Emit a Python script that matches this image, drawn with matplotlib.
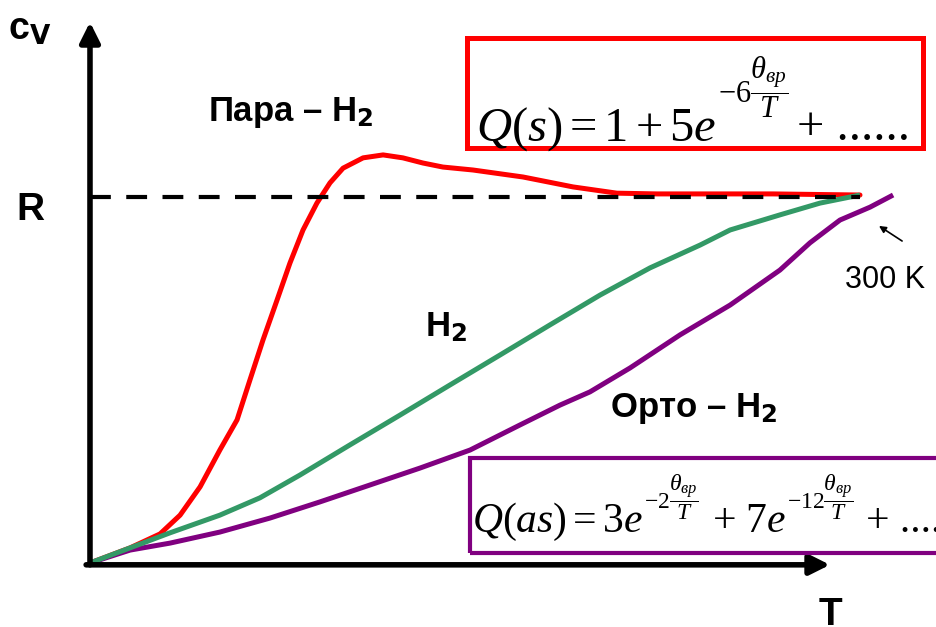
import numpy as np
import matplotlib
matplotlib.use("Agg")
import matplotlib.pyplot as plt
from matplotlib.patches import Rectangle

plt.rcParams['mathtext.fontset'] = 'custom'
plt.rcParams['mathtext.rm'] = 'Liberation Serif'
plt.rcParams['mathtext.it'] = 'Liberation Serif:italic'

# temperature T (K) and heat capacity cv (in units of R)
T_para = [0, 15.6, 27.3, 35.1, 42.9, 50.6, 57.3, 62.3, 67.4, 72.9, 77.9, 83.0, 88.4,
          93.5, 98.6, 106.4, 114.2, 121.9, 129.7, 137.5, 149.2, 168.7, 188.2, 205.3,
          220.9, 266.1, 300]
cv_para = [0, 0.041, 0.079, 0.130, 0.207, 0.307, 0.389, 0.497, 0.606, 0.715, 0.815, 0.905,
           0.978, 1.033, 1.073, 1.101, 1.109, 1.101, 1.087, 1.076, 1.068, 1.049, 1.022,
           1.005, 1.003, 1.003, 1.0]

T_h2 = [0, 15.6, 31.2, 50.6, 66.2, 81.8, 101.3, 120.8, 140.3, 159.7, 179.2, 198.7,
        218.2, 237.7, 249.4, 268.8, 284.4, 300]
cv_h2 = [0, 0.041, 0.082, 0.130, 0.177, 0.239, 0.321, 0.402, 0.484, 0.565, 0.647, 0.728,
         0.802, 0.864, 0.905, 0.946, 0.978, 1.0]

T_ortho = [0, 15.6, 31.2, 50.6, 70.1, 89.6, 109.1, 128.6, 148.1, 167.5, 183.1, 194.8,
           210.4, 229.9, 249.4, 268.8, 280.5, 292.2, 303.9, 312.9]
cv_ortho = [0, 0.035, 0.054, 0.084, 0.122, 0.166, 0.212, 0.258, 0.307, 0.375, 0.429, 0.465,
            0.530, 0.620, 0.701, 0.796, 0.870, 0.932, 0.967, 1.0]

fig = plt.figure(figsize=(9.37, 6.27), dpi=100)
ax = fig.add_axes([0, 0, 1, 1])
ax.set_xlim(-35.06, 330.0)
ax.set_ylim(-0.174, 1.530)
ax.axis('off')

ax.plot(T_para, cv_para, color='#ff0000', lw=3.6, solid_capstyle='round', zorder=2)
ax.plot(T_ortho, cv_ortho, color='#800080', lw=3.6, solid_capstyle='butt', zorder=3)
ax.plot(T_h2, cv_h2, color='#339966', lw=3.6, solid_capstyle='butt', zorder=4)
ax.plot([0, 300], [0.995, 0.995], color='black', lw=3, dashes=(5, 3.7), zorder=5)

# axes arrows
ax.annotate('', xy=(0, 1.47), xytext=(0, -0.005),
            arrowprops=dict(arrowstyle='-|>', lw=4, color='black', mutation_scale=30,
                            shrinkA=0, shrinkB=0), zorder=6)
ax.annotate('', xy=(288.3, -0.005), xytext=(-1.5, -0.005),
            arrowprops=dict(arrowstyle='-|>', lw=4, color='black', mutation_scale=30,
                            shrinkA=0, shrinkB=0), zorder=6)

bold = dict(family='Liberation Sans', weight='bold', color='black')
ax.text(-32, 1.45, r'c$_\mathbf{V}$', fontsize=27, va='center', ha='left', **bold)
ax.text(-28.5, 0.96, 'R', fontsize=28, va='center', ha='left', **bold)
ax.text(288.3, -0.092, 'T', fontsize=28, va='top', ha='center', **bold)
ax.text(46.0, 1.225, 'Пара – H$_\\mathbf{2}$', fontsize=25, va='center', ha='left', **bold)
ax.text(130.5, 0.64, 'H$_\\mathbf{2}$', fontsize=25, va='center', ha='left', **bold)
ax.text(202.5, 0.42, 'Орто – H$_\\mathbf{2}$', fontsize=25, va='center', ha='left', **bold)
ax.text(294.2, 0.769, '300 K', fontsize=22, va='center', ha='left',
        family='Liberation Sans', color='black')
ax.annotate('', xy=(307.4, 0.916), xytext=(316.4, 0.875),
            arrowprops=dict(arrowstyle='-|>', lw=1.2, color='black', mutation_scale=10,
                            shrinkA=0, shrinkB=0))

serif = dict(family='Liberation Serif', color='black', zorder=8)
exponent = r'$-%s\dfrac{\theta_{вр}}{T}$'

# Q(s) formula in red box
ax.add_patch(Rectangle((147.0, 1.128), 177.5, 0.299, fill=False, ec='#ff0000', lw=3.6, zorder=7))
base = 1.149
t1 = ax.text(150.5, base, r'$Q(s)=1+5e$', fontsize=35, va='baseline', ha='left', **serif)
t2 = ax.annotate(exponent % '6', xy=(1, base), xycoords=(t1, 'data'), xytext=(1, 38),
                 textcoords='offset points', fontsize=22, va='center', ha='left', **serif)
ax.annotate('+ ......', xy=(1, base), xycoords=(t2, 'data'), xytext=(6, 0),
            textcoords='offset points', fontsize=35, va='baseline', ha='left', **serif)

# Q(as) formula in purple box
ax.add_patch(Rectangle((148.0, 0.027), 200, 0.258, fill=False, ec='#800080', lw=3.0, zorder=7))
base = 0.084
s1 = ax.text(149.0, base, r'$Q(as)=3e$', fontsize=30, va='baseline', ha='left', **serif)
s2 = ax.annotate(exponent % '2', xy=(1, base), xycoords=(s1, 'data'), xytext=(1, 25),
                 textcoords='offset points', fontsize=17, va='center', ha='left', **serif)
s3 = ax.annotate('+ $7e$', xy=(1, base), xycoords=(s2, 'data'), xytext=(9, 0),
                 textcoords='offset points', fontsize=30, va='baseline', ha='left', **serif)
s4 = ax.annotate(exponent % '12', xy=(1, base), xycoords=(s3, 'data'), xytext=(1, 25),
                 textcoords='offset points', fontsize=17, va='center', ha='left', **serif)
ax.annotate('+ ....', xy=(1, base), xycoords=(s4, 'data'), xytext=(9, 0),
            textcoords='offset points', fontsize=30, va='baseline', ha='left', **serif)

fig.savefig('out.png', dpi=100)
